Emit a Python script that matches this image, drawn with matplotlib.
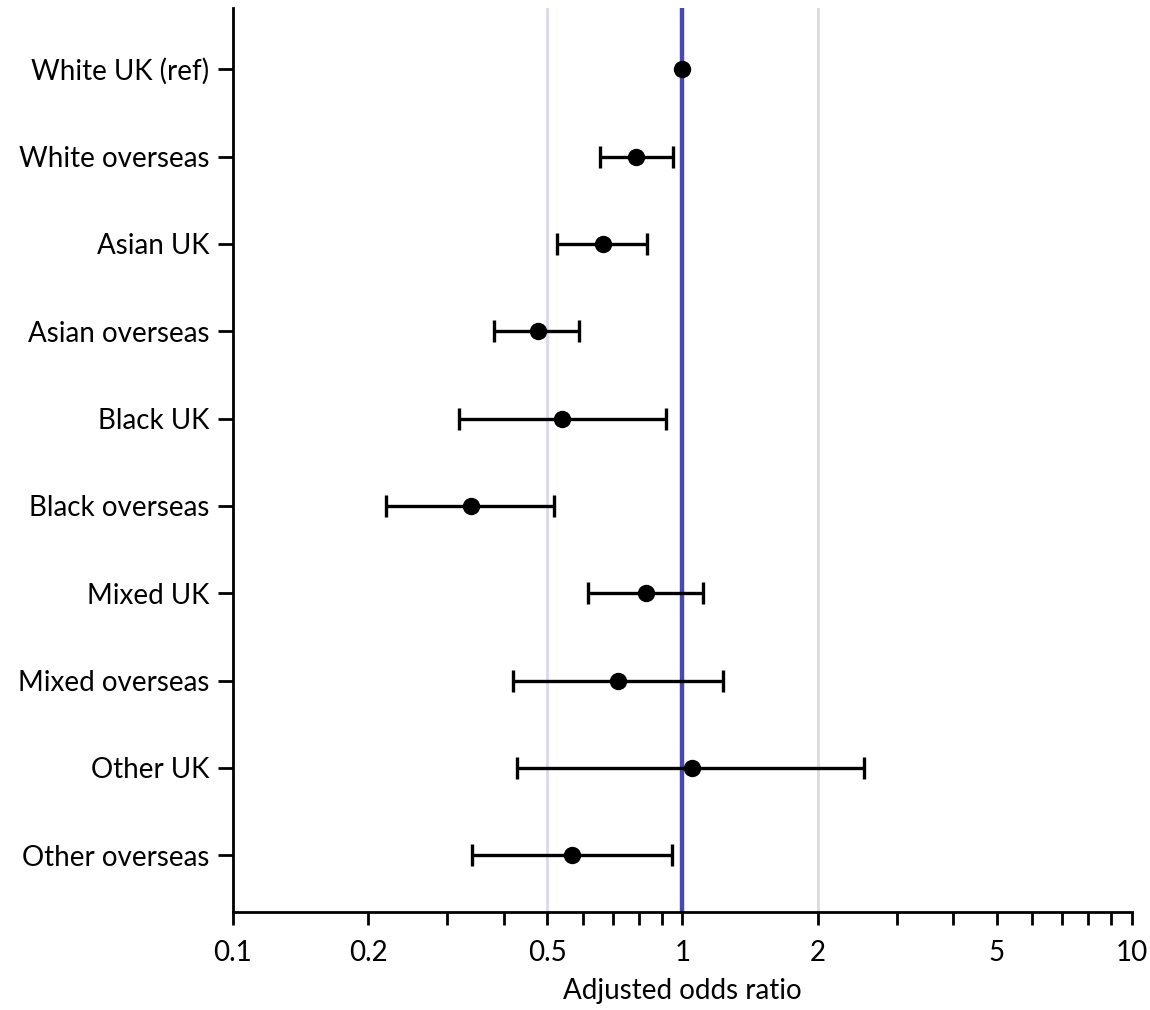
import numpy as np
import matplotlib
matplotlib.use('Agg')
from matplotlib import pyplot as plt
from matplotlib.ticker import FixedLocator, NullFormatter

# data
groups = ['White UK (ref)', 'White overseas', 'Asian UK', 'Asian overseas',
          'Black UK', 'Black overseas', 'Mixed UK', 'Mixed overseas',
          'Other UK', 'Other overseas']
odds = [1.0, 0.787, 0.667, 0.478, 0.539, 0.338, 0.828, 0.718, 1.048, 0.567]
ci_low = [1.0, 0.655, 0.527, 0.381, 0.318, 0.219, 0.617, 0.420, 0.428, 0.340]
ci_high = [1.0, 0.951, 0.835, 0.589, 0.918, 0.518, 1.11, 1.229, 2.54, 0.946]

major_ticks = [0.1, 0.2, 0.5, 1, 2, 5, 10]
tick_labels = ['0.1', '0.2', '0.5', '1', '2', '5', '10']
minor_ticks = [0.3, 0.4, 0.6, 0.7, 0.8, 0.9, 3, 4, 6, 7, 8, 9]

plt.rcParams['font.family'] = ['Lato', 'DejaVu Sans']

fig = plt.figure(figsize=(11.5, 10.1), dpi=100)
ax = fig.add_axes([0.2026, 0.097, 0.7817, 0.895])

y = np.arange(len(groups))
odds = np.array(odds)
err = np.array([odds - np.array(ci_low), np.array(ci_high) - odds])

# reference lines
for v in (0.5, 2):
    ax.axvline(v, color='#d9d9ee', lw=2, zorder=1)
ax.axvline(1, color='#4848b0', lw=3.2, zorder=2)

ax.errorbar(odds[1:], y[1:], xerr=err[:, 1:], fmt='none', ecolor='black',
            elinewidth=2.4, capsize=8, capthick=2.4, zorder=3)
ax.plot(odds, y, 'o', color='black', ms=11.5, zorder=4)

ax.set_xscale('log')
ax.set_xlim(0.1, 10)
ax.set_ylim(len(groups) - 1 + 0.65, -0.7)
ax.xaxis.set_major_locator(FixedLocator(major_ticks))
ax.xaxis.set_minor_locator(FixedLocator(minor_ticks))
ax.set_xticklabels(tick_labels)
ax.xaxis.set_minor_formatter(NullFormatter())
ax.set_yticks(y)
ax.set_yticklabels(groups)

ax.spines['top'].set_visible(False)
ax.spines['right'].set_visible(False)
for s in ('left', 'bottom'):
    ax.spines[s].set_linewidth(2)
ax.tick_params(axis='x', which='both', length=9, width=2, labelsize=20, pad=11)
ax.tick_params(axis='y', length=11, width=2, labelsize=20, pad=6)

ax.set_xlabel('Adjusted odds ratio', fontsize=20, labelpad=9)

fig.savefig('out.png', dpi=100)
